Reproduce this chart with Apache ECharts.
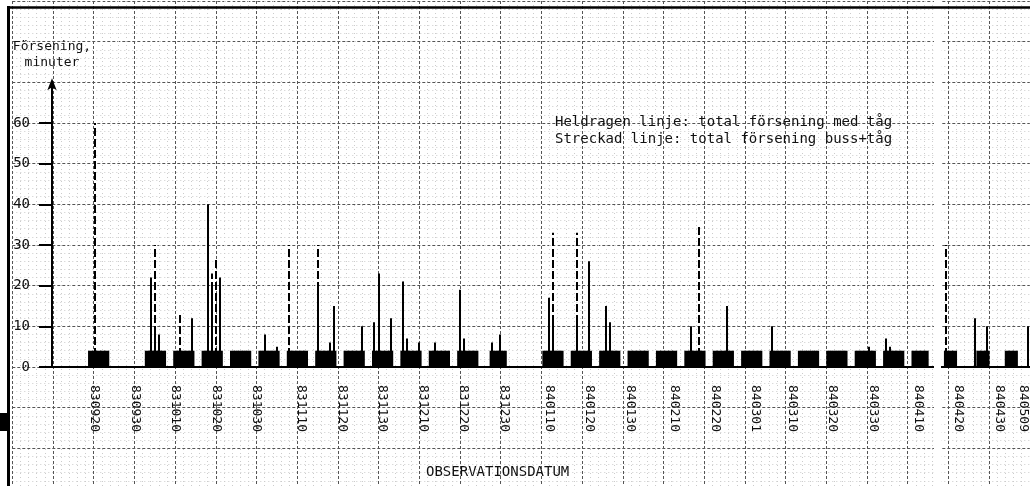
<!DOCTYPE html>
<html lang="sv">
<head>
<meta charset="UTF-8">
<title>Försening</title>
<script src="https://cdn.jsdelivr.net/npm/echarts@6/dist/echarts.min.js"></script>
<style>
    html, body { margin: 0; padding: 0; background: #fff; }
    #main { width: 1030px; height: 486px; }
</style>
</head>
<body>
<div id="main"></div>
<script>
// datum som yymmdd
var firstDay = '830910';
var lastDay = '840507';

// datum där x-axeln har ett streck, och texten vid strecket
var tickDates = ['830920', '830930', '831010', '831020', '831030', '831110', '831120', '831130',
    '831210', '831220', '831230', '840110', '840120', '840130', '840210', '840220', '840301',
    '840310', '840320', '840330', '840410', '840420', '840430', '840506'];
var tickLabels = ['830920', '830930', '831010', '831020', '831030', '831110', '831120', '831130',
    '831210', '831220', '831230', '840110', '840120', '840130', '840210', '840220', '840301',
    '840310', '840320', '840330', '840410', '840420', '840430', '840509'];

// observationsdagar (första och sista dag i varje period)
var obsPeriods = [
    ['830919', '830923'], ['831003', '831007'], ['831010', '831014'], ['831017', '831021'],
    ['831024', '831028'], ['831031', '831104'], ['831107', '831111'], ['831114', '831118'],
    ['831121', '831125'], ['831128', '831202'], ['831205', '831209'], ['831212', '831216'],
    ['831219', '831223'], ['831227', '831230'], ['840109', '840113'], ['840116', '840120'],
    ['840123', '840127'], ['840130', '840203'], ['840206', '840210'], ['840213', '840217'],
    ['840220', '840224'], ['840227', '840302'], ['840305', '840309'], ['840312', '840316'],
    ['840319', '840323'], ['840326', '840330'], ['840402', '840406'], ['840409', '840412'],
    ['840417', '840419'], ['840425', '840427'], ['840502', '840504']
];
var obsHeight = 4;

// heldragen linje: total försening med tåg (minuter)
var trainDelay = [
    ['831004', 22], ['831005', 9], ['831006', 8], ['831014', 12], ['831018', 40], ['831019', 19],
    ['831021', 22], ['831101', 8], ['831104', 5], ['831114', 20], ['831117', 6], ['831118', 15],
    ['831125', 10], ['831128', 11], ['831129', 23], ['831202', 12], ['831205', 21], ['831206', 7],
    ['831209', 6], ['831213', 6], ['831219', 19], ['831220', 7], ['831227', 6], ['831229', 8],
    ['840110', 17], ['840111', 11], ['840117', 12], ['840120', 26], ['840124', 15], ['840125', 11],
    ['840214', 10], ['840223', 15], ['840305', 10], ['840329', 5], ['840402', 7], ['840403', 5],
    ['840424', 12], ['840427', 10], ['840507', 10]
];

// streckad linje: total försening buss+tåg (minuter)
var busTrainDelay = [
    ['830920', 60], ['831005', 30], ['831011', 13], ['831018', 40], ['831019', 23], ['831020', 27],
    ['831107', 30], ['831114', 30], ['840111', 33], ['840117', 33], ['840216', 35], ['840417', 30]
];

var yTicks = [0, 10, 20, 30, 40, 50, 60];

var mono = '"DejaVu Sans Mono", "Liberation Mono", monospace';

function toTime(s) {
    return Date.UTC(1900 + parseInt(s.slice(0, 2), 10), parseInt(s.slice(2, 4), 10) - 1, parseInt(s.slice(4, 6), 10));
}
function toStr(t) {
    var d = new Date(t);
    var p = function (n) { return (n < 10 ? '0' : '') + n; };
    return p(d.getUTCFullYear() % 100) + p(d.getUTCMonth() + 1) + p(d.getUTCDate());
}

// alla dagar på x-axeln
var days = [];
for (var t = toTime(firstDay); t <= toTime(lastDay); t += 86400000) {
    days.push(toStr(t));
}

var obsData = days.map(function (d) {
    for (var i = 0; i < obsPeriods.length; i++) {
        if (d >= obsPeriods[i][0] && d <= obsPeriods[i][1]) return obsHeight;
    }
    return '-';
});

function isTick(index, value) {
    return tickDates.indexOf(value) >= 0;
}

function spike(dash) {
    return function (params, api) {
        var top = api.coord([api.value(0), api.value(1)]);
        var base = api.coord([api.value(0), 0]);
        var x = Math.round(top[0]);
        return {
            type: 'line',
            shape: { x1: x, y1: base[1], x2: x, y2: top[1] },
            style: { stroke: '#000', lineWidth: 2, lineDash: dash }
        };
    };
}

// rutat papper: stora rutor var 5:e, små rutor var 1
var paperMajor = { show: true, lineStyle: { color: '#555', width: 1, type: [3, 2] } };
var paperMinor = { show: true, lineStyle: { color: '#cccccc', width: 1, type: [1, 3] } };

var myChart = echarts.init(document.getElementById('main'));

var option = {
    animation: false,
    backgroundColor: '#fff',
    title: [
        {
            text: 'Heldragen linje: total försening med tåg\nStreckad linje: total försening buss+tåg',
            left: 555, top: 114, padding: 0,
            textStyle: { fontFamily: mono, fontSize: 14, fontWeight: 'normal', color: '#111', lineHeight: 17 }
        },
        {
            text: 'OBSERVATIONSDATUM',
            left: 426, top: 465, padding: 0,
            textStyle: { fontFamily: mono, fontSize: 14, fontWeight: 'normal', color: '#111' }
        }
    ],
    grid: [
        { left: 52, right: -1, top: 82.3, bottom: 119 },
        { left: 12.3, top: 1, width: 1017.5, height: 485 }
    ],
    xAxis: [
        {
            type: 'category',
            data: days,
            gridIndex: 0,
            boundaryGap: true,
            axisLine: { lineStyle: { color: '#000', width: 2 } },
            axisTick: { alignWithLabel: true, interval: isTick, length: 12, lineStyle: { color: '#000', width: 2 } },
            axisLabel: {
                interval: isTick,
                rotate: -90,
                margin: 18,
                fontFamily: mono,
                fontSize: 13,
                color: '#111',
                formatter: function (v) {
                    var i = tickDates.indexOf(v);
                    return i >= 0 ? tickLabels[i] : '';
                }
            },
            splitLine: { show: false }
        },
        {
            type: 'value',
            gridIndex: 1,
            min: 0, max: 125, interval: 5,
            axisLine: { show: false }, axisTick: { show: false }, axisLabel: { show: false },
            minorTick: { show: false, splitNumber: 5 },
            splitLine: paperMajor,
            minorSplitLine: paperMinor
        }
    ],
    yAxis: [
        {
            type: 'value',
            gridIndex: 0,
            min: 0, max: 70, interval: 10,
            name: 'Försening,\nminuter',
            nameLocation: 'end',
            nameGap: 12,
            nameTextStyle: { fontFamily: mono, fontSize: 13, color: '#111', align: 'center', lineHeight: 16 },
            axisLine: { show: true, symbol: ['none', 'arrow'], symbolSize: [7, 12], symbolOffset: [0, 4], lineStyle: { color: '#000', width: 2 } },
            axisTick: { show: true, customValues: yTicks, length: 13, lineStyle: { color: '#000', width: 2 } },
            axisLabel: {
                customValues: yTicks,
                margin: 22,
                fontFamily: mono,
                fontSize: 14,
                color: '#111'
            },
            splitLine: { show: false }
        },
        {
            type: 'value',
            gridIndex: 1,
            inverse: true,
            min: 0, max: 59.63, interval: 5,
            axisLine: { show: false }, axisTick: { show: false }, axisLabel: { show: false },
            minorTick: { show: false, splitNumber: 5 },
            splitLine: paperMajor,
            minorSplitLine: paperMinor
        }
    ],
    graphic: [
        { type: 'rect', z: 1, shape: { x: 934, y: 0, width: 7, height: 486 }, style: { fill: '#fff' } },
        { type: 'line', z: 5, shape: { x1: 8.5, y1: 6, x2: 8.5, y2: 486 }, style: { stroke: '#000', lineWidth: 3 } },
        { type: 'line', z: 5, shape: { x1: 7, y1: 7.5, x2: 1030, y2: 7.5 }, style: { stroke: '#000', lineWidth: 2.5 } },
        { type: 'rect', z: 5, shape: { x: 0, y: 413, width: 7, height: 18 }, style: { fill: '#000' } }
    ],
    series: [
        {
            name: 'observation',
            type: 'bar',
            xAxisIndex: 0, yAxisIndex: 0,
            data: obsData,
            barWidth: 5,
            itemStyle: { color: '#000' },
            z: 3
        },
        {
            name: 'buss+tåg',
            type: 'custom',
            xAxisIndex: 0, yAxisIndex: 0,
            data: busTrainDelay,
            encode: { x: 0, y: 1 },
            renderItem: spike([8, 3]),
            z: 4
        },
        {
            name: 'tåg',
            type: 'custom',
            xAxisIndex: 0, yAxisIndex: 0,
            data: trainDelay,
            encode: { x: 0, y: 1 },
            renderItem: spike(null),
            z: 5
        }
    ]
};

myChart.setOption(option);
</script>
</body>
</html>
